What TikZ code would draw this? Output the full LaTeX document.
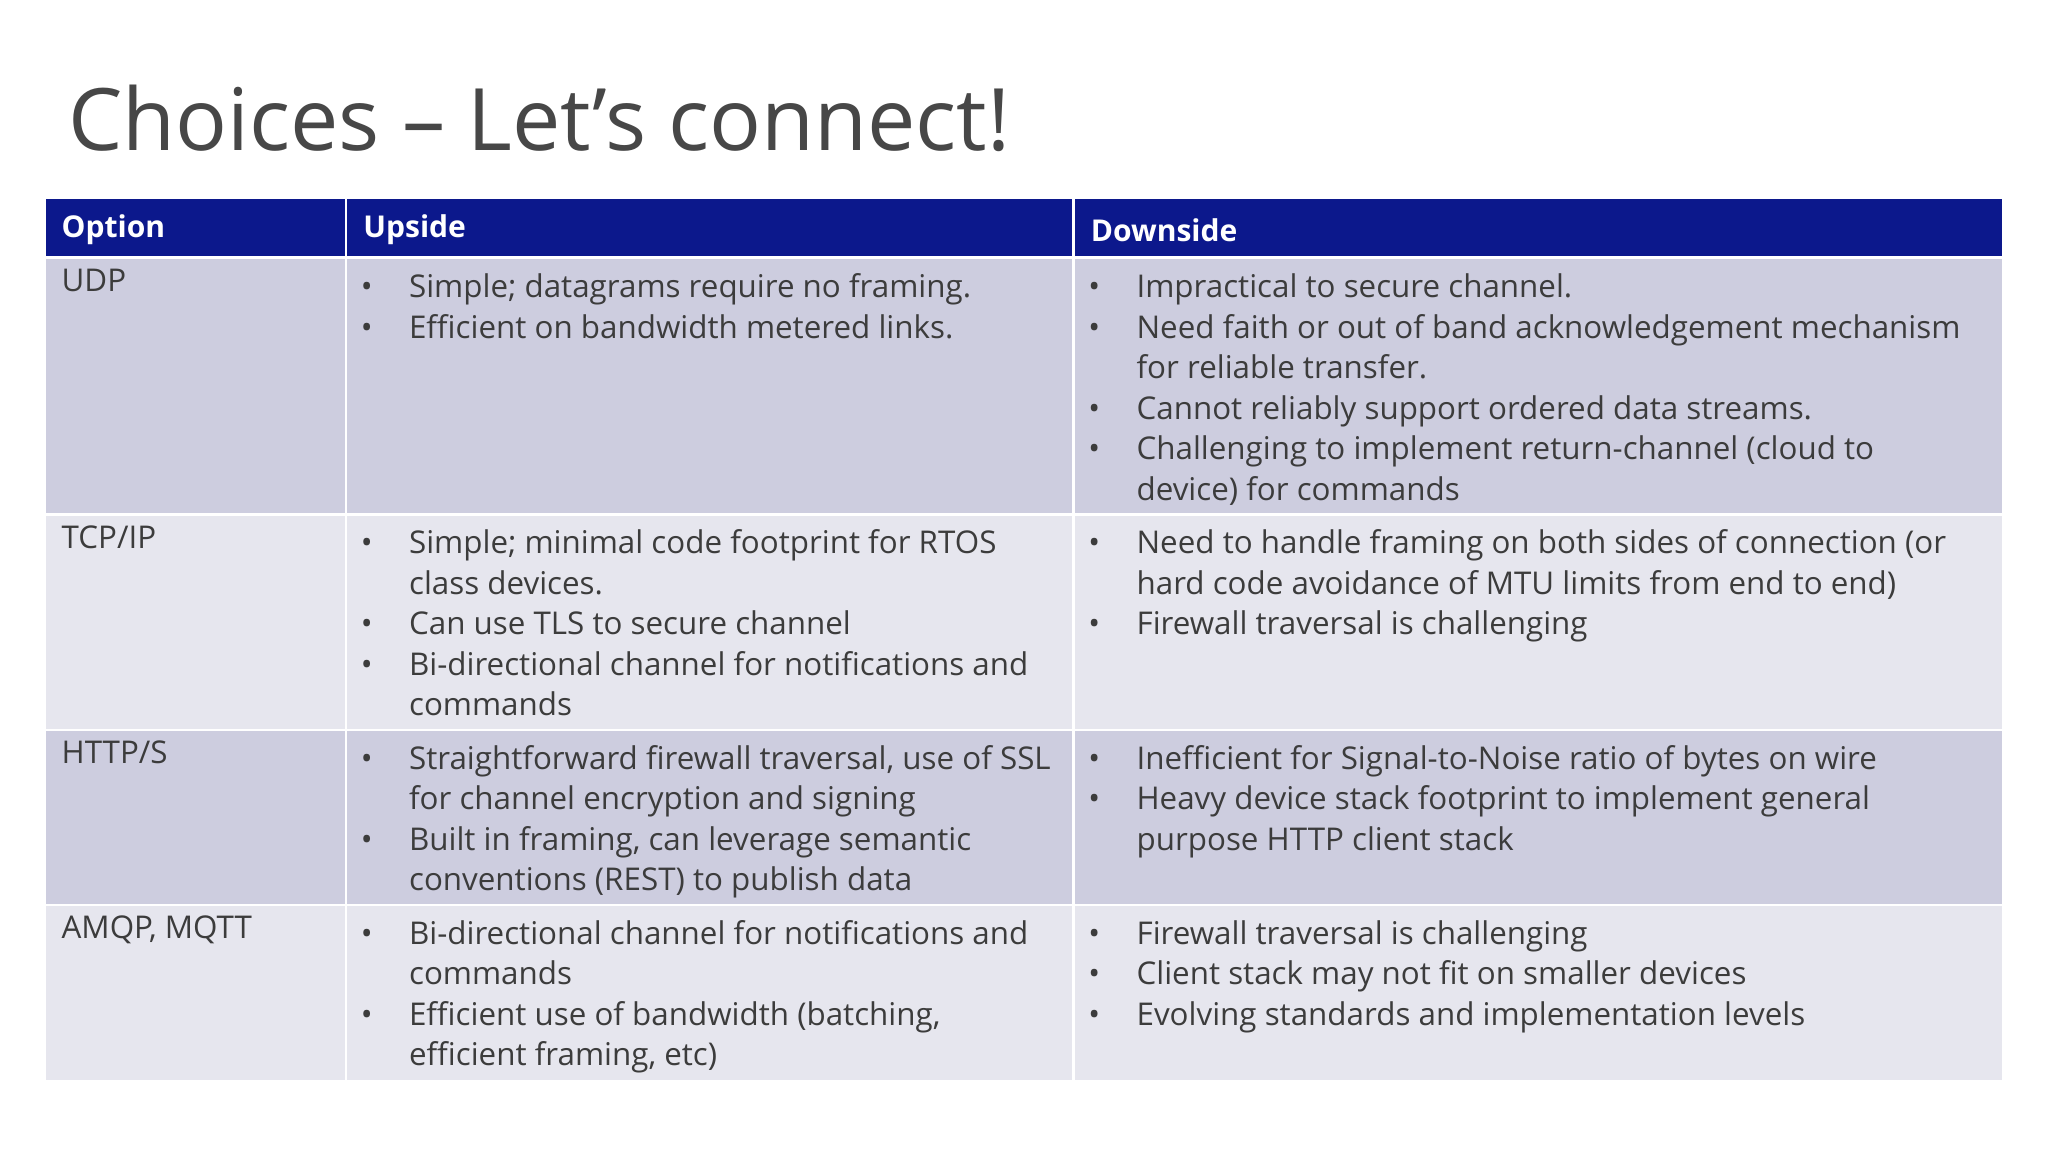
\documentclass[tikz,border=0pt]{standalone}
\usepackage{fontspec}
\setmainfont{Open Sans}
\definecolor{hdr}{RGB}{12,24,140}
\definecolor{rowA}{RGB}{205,205,223}
\definecolor{rowB}{RGB}{230,230,238}
\definecolor{txt}{RGB}{60,60,60}
\newcommand{\bb}{\textbullet}
\newcommand{\bt}[1]{\begin{tabular}{@{}p{37pt}@{}l@{}}#1\end{tabular}}
\tikzset{
  cellA/.style={fill=rowA,draw=none},
  cellB/.style={fill=rowB,draw=none},
  hcell/.style={fill=hdr,draw=none},
  htext/.style={anchor=west,inner sep=0pt,text=white,font=\fontsize{23}{28}\selectfont\bfseries},
  ctext/.style={anchor=north west,inner sep=0pt,text=txt,align=left,font=\fontsize{24}{31}\selectfont}
}
\begin{document}
\begin{tikzpicture}[x=1pt,y=-1pt]
\useasboundingbox (0,0) rectangle (1568,882);
\node[anchor=base west,inner sep=0pt,text=black!72,font=\fontsize{66}{80}\selectfont] (title) at (52,115) {Choices – Let’s connect!};
% header
\fill[hcell] (35,152) rectangle (264,196);
\fill[hcell] (266,152) rectangle (821,196);
\fill[hcell] (823,152) rectangle (1533,196);
\node[htext] (h1) at (47,176) {Option};
\node[htext] (h2) at (278,176) {Upside};
\node[htext] (h3) at (835,176) {Downside};
% rows
\foreach \t/\b/\s in {198/393/cellA,395/558/cellB,560/692/cellA,694/827/cellB}{
  \fill[\s] (35,\t) rectangle (264,\b);
  \fill[\s] (266,\t) rectangle (821,\b);
  \fill[\s] (823,\t) rectangle (1533,\b);
}
% row 1
\node[ctext] (o1) at (47,206) {UDP};
\node[ctext] (u1) at (276,206) {\bt{\bb & Simple; datagrams require no framing.\\ \bb & Efficient on bandwidth metered links.}};
\node[ctext] (d1) at (833,206) {\bt{\bb & Impractical to secure channel.\\ \bb & Need faith or out of band acknowledgement mechanism\\ & for reliable transfer.\\ \bb & Cannot reliably support ordered data streams.\\ \bb & Challenging to implement return-channel (cloud to\\ & device) for commands}};
% row 2
\node[ctext] (o2) at (47,402) {TCP/IP};
\node[ctext] (u2) at (276,402) {\bt{\bb & Simple; minimal code footprint for RTOS\\ & class devices.\\ \bb & Can use TLS to secure channel\\ \bb & Bi-directional channel for notifications and\\ & commands}};
\node[ctext] (d2) at (833,402) {\bt{\bb & Need to handle framing on both sides of connection (or\\ & hard code avoidance of MTU limits from end to end)\\ \bb & Firewall traversal is challenging}};
% row 3
\node[ctext] (o3) at (47,567) {HTTP/S};
\node[ctext] (u3) at (276,567) {\bt{\bb & Straightforward firewall traversal, use of SSL\\ & for channel encryption and signing\\ \bb & Built in framing, can leverage semantic\\ & conventions (REST) to publish data}};
\node[ctext] (d3) at (833,567) {\bt{\bb & Inefficient for Signal-to-Noise ratio of bytes on wire\\ \bb & Heavy device stack footprint to implement general\\ & purpose HTTP client stack}};
% row 4
\node[ctext] (o4) at (47,701) {AMQP, MQTT};
\node[ctext] (u4) at (276,701) {\bt{\bb & Bi-directional channel for notifications and\\ & commands\\ \bb & Efficient use of bandwidth (batching,\\ & efficient framing, etc)}};
\node[ctext] (d4) at (833,701) {\bt{\bb & Firewall traversal is challenging\\ \bb & Client stack may not fit on smaller devices\\ \bb & Evolving standards and implementation levels}};
\end{tikzpicture}
\end{document}
